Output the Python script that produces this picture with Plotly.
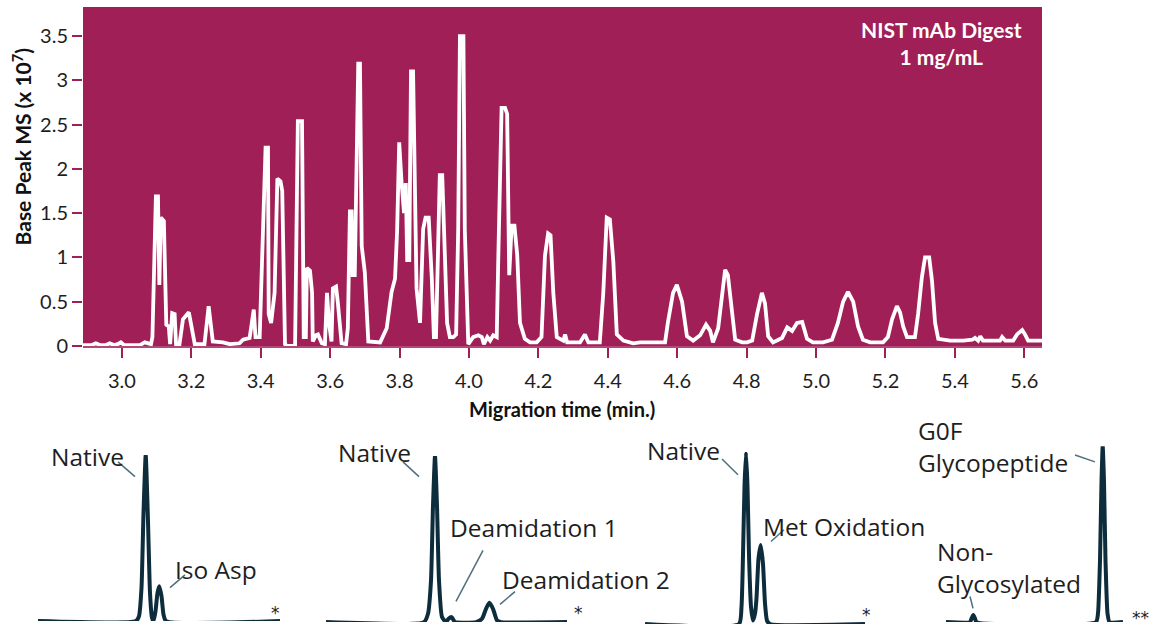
import plotly.graph_objects as go

W, H = 1153, 638

# ---------------- main electropherogram data ----------------
time_min = [2.888, 2.914, 2.925, 2.937, 2.954, 2.965, 2.977, 2.988, 2.997, 3.006, 3.037, 3.052, 3.066, 3.075, 3.084,
            3.088, 3.098, 3.104, 3.108, 3.112, 3.121, 3.128, 3.135, 3.139, 3.145, 3.152, 3.156, 3.166, 3.176, 3.193,
            3.210, 3.238, 3.250, 3.262, 3.291, 3.311, 3.339, 3.349, 3.368, 3.380, 3.385, 3.397, 3.406, 3.414, 3.421,
            3.423, 3.430, 3.440, 3.448, 3.457, 3.462, 3.470, 3.475, 3.499, 3.507, 3.519, 3.524, 3.530, 3.533, 3.542,
            3.548, 3.550, 3.559, 3.565, 3.576, 3.585, 3.591, 3.597, 3.604, 3.608, 3.617, 3.622, 3.633, 3.646, 3.651,
            3.657, 3.662, 3.665, 3.671, 3.676, 3.681, 3.686, 3.691, 3.700, 3.710, 3.744, 3.763, 3.777, 3.787, 3.793,
            3.799, 3.806, 3.813, 3.818, 3.822, 3.828, 3.833, 3.839, 3.844, 3.849, 3.859, 3.868, 3.875, 3.884, 3.893,
            3.899, 3.905, 3.912, 3.916, 3.923, 3.931, 3.937, 3.945, 3.955, 3.963, 3.969, 3.974, 3.984, 3.988, 3.998,
            4.012, 4.027, 4.037, 4.043, 4.053, 4.061, 4.070, 4.080, 4.084, 4.094, 4.104, 4.110, 4.116, 4.123, 4.131,
            4.139, 4.147, 4.161, 4.176, 4.195, 4.209, 4.219, 4.228, 4.235, 4.243, 4.253, 4.272, 4.277, 4.283, 4.301,
            4.320, 4.334, 4.344, 4.377, 4.387, 4.397, 4.406, 4.416, 4.426, 4.445, 4.473, 4.493, 4.530, 4.565, 4.573,
            4.588, 4.599, 4.614, 4.628, 4.646, 4.666, 4.683, 4.695, 4.703, 4.718, 4.729, 4.738, 4.746, 4.758, 4.767,
            4.787, 4.801, 4.816, 4.830, 4.844, 4.853, 4.862, 4.876, 4.902, 4.917, 4.931, 4.945, 4.960, 4.974, 4.991,
            5.020, 5.046, 5.063, 5.078, 5.092, 5.107, 5.121, 5.135, 5.156, 5.193, 5.207, 5.219, 5.233, 5.242, 5.251,
            5.262, 5.277, 5.285, 5.294, 5.305, 5.314, 5.326, 5.334, 5.343, 5.352, 5.386, 5.424, 5.450, 5.458, 5.467,
            5.473, 5.481, 5.530, 5.536, 5.545, 5.568, 5.579, 5.594, 5.602, 5.611, 5.651]
intensity = [0.01, 0.01, 0.03, 0.01, 0.01, 0.03, 0.01, 0.02, 0.04, 0.01, 0.01, 0.01, 0.04, 0.03, 0.02,
             0.10, 1.69, 1.69, 0.69, 1.45, 1.41, 0.24, 0.22, 0.02, 0.37, 0.36, 0.02, 0.02, 0.30, 0.38,
             0.02, 0.02, 0.45, 0.05, 0.04, 0.02, 0.03, 0.07, 0.09, 0.41, 0.10, 0.10, 1.32, 2.24, 2.24,
             0.36, 0.26, 0.60, 1.89, 1.86, 1.75, 0.02, 0.00, 0.00, 2.54, 2.54, 0.10, 0.10, 0.88, 0.85,
             0.60, 0.05, 0.12, 0.13, 0.03, 0.02, 0.60, 0.25, 0.05, 0.65, 0.67, 0.50, 0.03, 0.02, 0.20,
             1.52, 1.52, 0.80, 0.80, 2.28, 3.19, 3.19, 1.13, 0.83, 0.05, 0.04, 0.20, 0.61, 0.76, 1.30,
             2.30, 1.84, 1.50, 1.84, 0.97, 0.97, 3.10, 3.10, 1.87, 0.65, 0.26, 1.32, 1.45, 1.45, 0.76,
             0.10, 0.10, 1.24, 1.93, 1.93, 0.95, 0.26, 0.10, 0.10, 0.13, 1.32, 3.50, 3.50, 1.32, 0.02,
             0.10, 0.12, 0.10, 0.02, 0.10, 0.06, 0.12, 0.10, 0.90, 2.69, 2.69, 2.62, 0.80, 1.36, 1.36,
             1.03, 0.26, 0.08, 0.04, 0.04, 0.10, 1.02, 1.27, 1.25, 0.60, 0.10, 0.06, 0.13, 0.04, 0.04,
             0.04, 0.13, 0.04, 0.04, 0.60, 1.45, 1.43, 0.95, 0.13, 0.06, 0.03, 0.04, 0.04, 0.04, 0.26,
             0.60, 0.69, 0.50, 0.11, 0.06, 0.12, 0.24, 0.17, 0.04, 0.20, 0.60, 0.86, 0.80, 0.35, 0.07,
             0.04, 0.04, 0.06, 0.36, 0.60, 0.48, 0.11, 0.04, 0.09, 0.21, 0.17, 0.26, 0.27, 0.08, 0.04,
             0.04, 0.07, 0.26, 0.50, 0.61, 0.50, 0.22, 0.07, 0.04, 0.04, 0.10, 0.30, 0.45, 0.38, 0.22,
             0.10, 0.10, 0.10, 0.36, 0.78, 1.00, 1.00, 0.74, 0.26, 0.08, 0.06, 0.06, 0.07, 0.09, 0.06,
             0.11, 0.06, 0.06, 0.10, 0.06, 0.06, 0.13, 0.18, 0.13, 0.06, 0.06]

x_tick_vals = [3.0, 3.2, 3.4, 3.6, 3.8, 4.0, 4.2, 4.4, 4.6, 4.8, 5.0, 5.2, 5.4, 5.6]
x_tick_text = ["3.0", "3.2", "3.4", "3.6", "3.8", "4.0", "4.2", "4.4", "4.6", "4.8", "5.0", "5.2", "5.4", "5.6"]
y_tick_vals = [0, 0.5, 1, 1.5, 2, 2.5, 3, 3.5]
y_tick_text = ["0", "0.5", "1", "1.5", "2", "2.5", "3", "3.5"]

# ---------------- inset (zoomed peak) data: relative time, relative intensity ----------------
p1_t = [0, 0.98, 1.01, 1.035, 1.055, 1.077, 1.10, 1.12, 1.14, 1.155, 1.175, 1.195, 1.213, 1.235, 1.255, 1.28, 2.42]
p1_i = [0, 0, 0.03, 0.20, 0.65, 1.00, 0.60, 0.17, 0.02, 0.00, 0.06, 0.17, 0.21, 0.15, 0.04, 0, 0]

p2_t = [0, 0.98, 1.02, 1.05, 1.07, 1.09, 1.11, 1.13, 1.16, 1.20, 1.225, 1.257, 1.29, 1.50, 1.56, 1.60, 1.633, 1.67, 1.71, 1.75, 2.41]
p2_i = [0, 0, 0.05, 0.25, 0.70, 1.00, 0.70, 0.25, 0.03, 0.00, 0.02, 0.03, 0.00, 0, 0.02, 0.08, 0.116, 0.08, 0.01, 0, 0]

p3_t = [0, 0.94, 0.965, 0.98, 0.995, 1.01, 1.025, 1.04, 1.06, 1.08, 1.10, 1.115, 1.135, 1.157, 1.18, 1.20, 1.22, 1.25, 2.20]
p3_i = [0, 0, 0.10, 0.40, 0.80, 1.00, 0.80, 0.40, 0.10, 0.02, 0.06, 0.15, 0.38, 0.46, 0.35, 0.12, 0.02, 0, 0]

p4_t = [0, 0.24, 0.255, 0.273, 0.29, 0.305, 1.50, 1.52, 1.54, 1.555, 1.567, 1.58, 1.595, 1.615, 1.635, 1.77]
p4_i = [0, 0, 0.02, 0.04, 0.02, 0, 0, 0.05, 0.35, 0.80, 1.00, 0.80, 0.35, 0.05, 0, 0]

# ---------------- styling ----------------
MAGENTA = "#A01F56"
DARK = "#0D2D3D"
TEXT = "#1E1E1E"
LEADER = "#4F6F7E"


def fx(px):
    return px / W


def fy(py):
    return 1 - py / H


fig = go.Figure()

fig.add_trace(go.Scatter(x=time_min, y=intensity, mode="lines",
                         line=dict(color="white", width=3.8), xaxis="x", yaxis="y",
                         showlegend=False, hoverinfo="skip"))

insets = [
    (p1_t, p1_i, 38, 280, 632, 463),
    (p2_t, p2_i, 326, 567, 633, 464),
    (p3_t, p3_i, 645, 865, 635, 460),
    (p4_t, p4_i, 946, 1123, 633, 454),
]

layout_axes = {}
for k, (t, i, x0, x1, yb, yt) in enumerate(insets, start=2):
    fig.add_trace(go.Scatter(x=t, y=i, mode="lines",
                             line=dict(color=DARK, width=4, shape="spline", smoothing=0.5),
                             xaxis=f"x{k}", yaxis=f"y{k}", showlegend=False, hoverinfo="skip"))
    layout_axes[f"xaxis{k}"] = dict(domain=[fx(x0), fx(x1)], range=[0, (x1 - x0) / 100],
                                    visible=False, anchor=f"y{k}")
    layout_axes[f"yaxis{k}"] = dict(domain=[fy(yb), fy(yt)], range=[0, 1],
                                    visible=False, anchor=f"x{k}")

fig.update_layout(
    width=W, height=H,
    margin=dict(l=0, r=0, t=0, b=0),
    paper_bgcolor="white",
    plot_bgcolor="rgba(0,0,0,0)",
    font=dict(family="Lato", color=TEXT),
    xaxis=dict(domain=[fx(83), fx(1042)], range=[2.888, 5.651], anchor="y",
               tickvals=x_tick_vals, ticktext=x_tick_text,
               ticks="outside", ticklen=10, tickwidth=2, tickcolor=MAGENTA,
               ticklabelstandoff=6,
               tickfont=dict(family="Lato", size=20, color=TEXT),
               showgrid=False, zeroline=False, showline=True, linecolor="#B5487A", linewidth=1.5),
    yaxis=dict(domain=[fy(352), fy(7)], range=[0, 3.83], anchor="x",
               tickvals=y_tick_vals, ticktext=y_tick_text,
               ticks="outside", ticklen=10, tickwidth=2, tickcolor=MAGENTA,
               tickfont=dict(family="Lato", size=20, color=TEXT),
               showgrid=False, zeroline=False, showline=False),
    **layout_axes,
)

annotations = [
    dict(x=fx(22), y=fy(149), xref="paper", yref="paper", text="<b>Base Peak MS (x 10<sup>7</sup>)</b>",
         textangle=-90, showarrow=False, font=dict(family="Lato", size=21, color="#111"),
         xanchor="center", yanchor="middle"),
    dict(x=fx(562), y=fy(416), xref="paper", yref="paper", text="<b>Migration time (min.)</b>",
         showarrow=False, font=dict(family="Lato", size=20, color="#111"),
         xanchor="center", yanchor="middle"),
    dict(x=fx(941), y=fy(44), xref="paper", yref="paper", text="<b>NIST mAb Digest<br>1 mg/mL</b>",
         showarrow=False, font=dict(family="Lato", size=21, color="white"), align="center",
         xanchor="center", yanchor="middle"),
]

labels = [
    ("Native", 49, 465), ("Iso Asp", 173, 579),
    ("Native", 336, 460), ("Deamidation 1", 448, 537), ("Deamidation 2", 500, 590),
    ("Native", 645, 458), ("Met Oxidation", 761, 536),
    ("G0F<br>Glycopeptide", 916, 454), ("Non-<br>Glycosylated", 935, 577),
]
for txt, lx, ly in labels:
    annotations.append(dict(x=fx(lx), y=fy(ly), xref="paper", yref="paper", text=txt, showarrow=False,
                            xanchor="left", yanchor="middle", align="left",
                            font=dict(family="Open Sans", size=24.5, color=TEXT)))

stars = [("*", 275, 624), ("*", 578, 624), ("*", 866, 626), ("**", 1140, 629)]
for txt, sx, sy in stars:
    annotations.append(dict(x=fx(sx), y=fy(sy), xref="paper", yref="paper", text=txt, showarrow=False,
                            xanchor="center", yanchor="middle",
                            font=dict(family="DejaVu Sans", size=17, color=TEXT)))

fig.update_layout(annotations=annotations)

shapes = [dict(type="rect", xref="x domain", yref="y domain", x0=0, x1=1, y0=0, y1=1,
               fillcolor=MAGENTA, line=dict(width=0), layer="below")]

leaders = [
    (118, 470, 135, 485), (185, 585, 170, 598),
    (403, 470, 419, 485), (483, 560, 456, 612), (515, 602, 500, 615),
    (722, 467, 738, 483), (784, 539, 771, 551),
    (1075, 463, 1095, 470), (970, 607, 973, 619),
]
for ax0, ay0, ax1, ay1 in leaders:
    shapes.append(dict(type="line", xref="paper", yref="paper", x0=fx(ax0), y0=fy(ay0), x1=fx(ax1), y1=fy(ay1),
                       line=dict(color=LEADER, width=1.5)))
fig.update_layout(shapes=shapes)

fig.write_html("out.html", config={"displayModeBar": False},
               post_script="document.body.style.margin='0';")
